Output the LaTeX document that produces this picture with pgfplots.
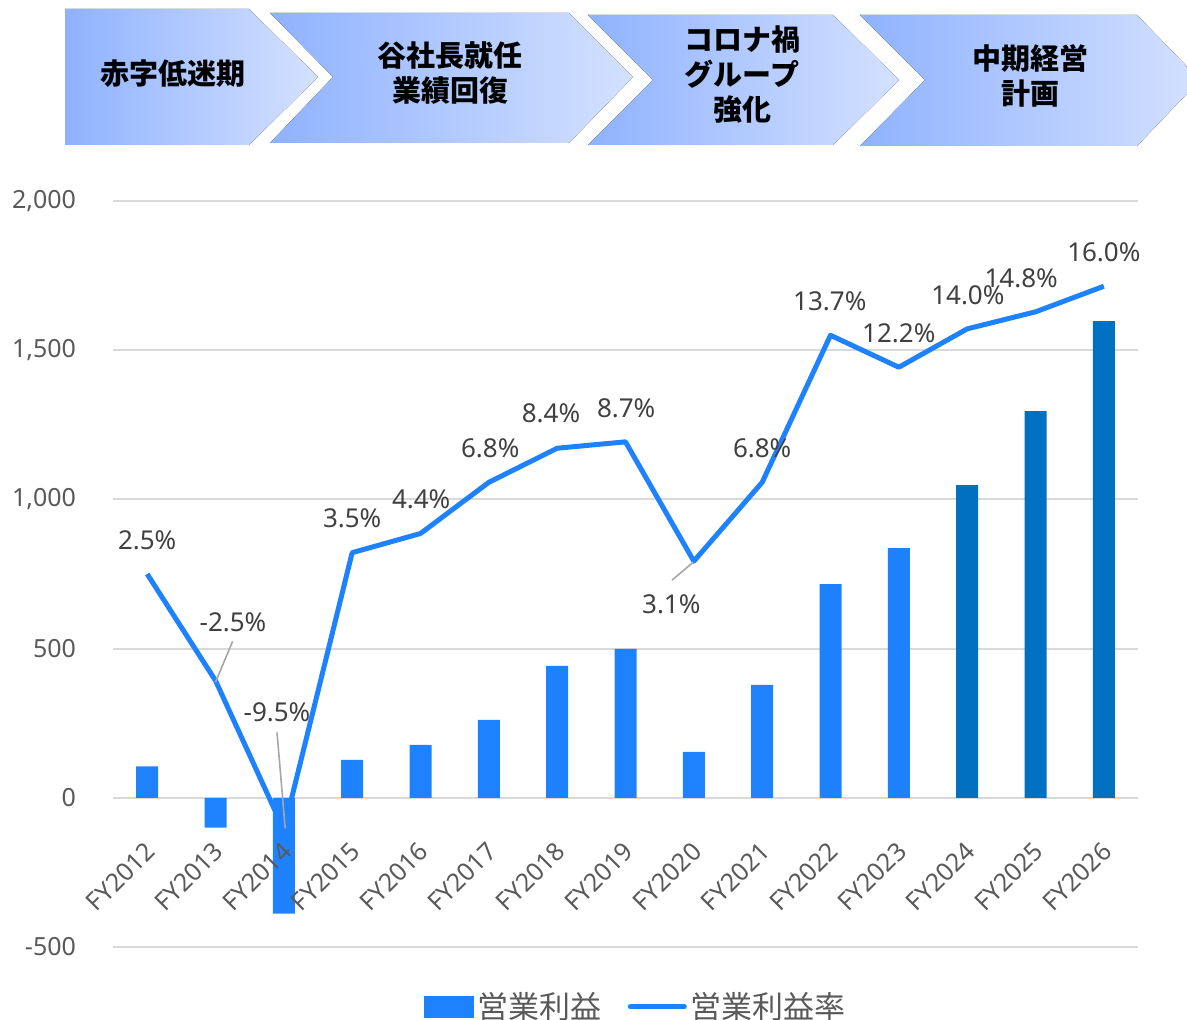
\documentclass[border=0pt]{standalone}
\usepackage{fontspec}
\setmainfont{Noto Sans}
\newfontfamily\jp{Noto Sans CJK JP}
\usepackage{pgfplots}
\pgfplotsset{compat=1.18}
\definecolor{barblue}{HTML}{1E82FF}
\definecolor{bardark}{HTML}{0070C0}
\definecolor{gridc}{HTML}{D9D9D9}
\definecolor{tickc}{HTML}{595959}
\definecolor{labc}{HTML}{404040}
\definecolor{chl}{HTML}{8FB2FF}
\definecolor{chr}{HTML}{D4E1FF}
\definecolor{leader}{HTML}{A6A6A6}
\begin{document}
\begin{tikzpicture}[x=0.5pt,y=0.5pt]
\useasboundingbox (0,0) rectangle (1187,1020);
% chevrons
\fill[left color=chl, right color=chr] (65,1011) -- (249,1011) -- (318,943) -- (249,875) -- (65,875) -- cycle;
\fill[left color=chl, right color=chr] (270,1007) -- (569,1007) -- (633,943) -- (569,877) -- (270,877) -- (333,943) -- cycle;
\fill[left color=chl, right color=chr] (588,1005) -- (833,1005) -- (899,940) -- (833,875) -- (588,875) -- (653,940) -- cycle;
\fill[left color=chl, right color=chr] (860,1005) -- (1137,1005) -- (1200,940) -- (1137,874) -- (860,874) -- (925,940) -- cycle;
\begin{scope}[every node/.style={font=\jp\bfseries\fontsize{14.5}{17.5}\selectfont, align=center, text=black}]
\node at (173,946) {赤字低迷期};
\node at (450,947) {谷社長就任\\業績回復};
\node at (742,945) {コロナ禍\\グループ\\強化};
\node at (1030,944) {中期経営\\計画};
\end{scope}

\begin{axis}[
  at={(56.5pt,36.5pt)}, anchor=south west, scale only axis,
  width=512.5pt, height=373pt,
  xmin=-0.5, xmax=14.5, ymin=-500, ymax=2000,
  ytick={-500,0,500,1000,1500,2000},
  xtick=\empty,
  axis line style={draw=none}, major tick length=0pt,
  ymajorgrids, grid style={gridc, line width=1pt},
  tick label style={font=\fontsize{12.5}{14}\selectfont, text=tickc},
  yticklabel style={xshift=-15pt},
  /pgf/number format/1000 sep={,},
  /pgf/number format/assume math mode=true,
  ybar, bar width=11pt, bar shift=0pt,
  legend columns=2,
  legend style={at={(0.511,-0.0804)}, anchor=center, draw=none, fill=none,
    font=\jp\fontsize{15.5}{17}\selectfont, text=tickc,
    /tikz/every even column/.append style={column sep=11pt}},
]
\addplot[fill=barblue, draw=none,
  legend image code/.code={\fill[barblue] (0pt,-5.5pt) rectangle (25pt,5.5pt);}]
  coordinates {(0,105) (1,-100) (2,-388) (3,127) (4,177) (5,261) (6,442) (7,499) (8,154) (9,378) (10,716) (11,837)};
\addlegendentry{営業利益}
\addplot[fill=bardark, draw=none, forget plot]
  coordinates {(12,1048) (13,1296) (14,1597)};
\addlegendimage{legend image code/.code={\draw[barblue, line width=2.5pt, line cap=round] (0pt,0pt) -- (27pt,0pt);}}
\addlegendentry{営業利益率}
\end{axis}

\begin{axis}[
  at={(56.5pt,36.5pt)}, anchor=south west, scale only axis,
  width=512.5pt, height=373pt,
  xmin=-0.5, xmax=14.5, ymin=-15, ymax=20,
  axis line style={draw=none}, major tick length=0pt,
  ytick=\empty,
  xtick={0,...,14},
  xticklabels={FY2012,FY2013,FY2014,FY2015,FY2016,FY2017,FY2018,FY2019,FY2020,FY2021,FY2022,FY2023,FY2024,FY2025,FY2026},
  tick label style={font=\fontsize{12.5}{14}\selectfont, text=tickc},
  xticklabel style={yshift=52.5pt, xshift=4pt, rotate=45, anchor=east},
  clip=false,
]
\addplot[barblue, line width=2.5pt, line join=round] coordinates {
  (0,2.5) (1,-2.5) (2,-9.5) (3,3.5) (4,4.4) (5,6.8) (6,8.4) (7,8.7) (8,3.1) (9,6.8) (10,13.7) (11,12.2) (12,14.0) (13,14.8) (14,16.0)};
\draw[leader, line width=0.8pt] (axis cs:1.0,-2.58) -- (axis cs:1.25,-0.66);
\draw[leader, line width=0.8pt] (axis cs:1.90,-4.93) -- (axis cs:2.02,-9.43);
\draw[leader, line width=0.8pt] (axis cs:7.99,3.05) -- (axis cs:7.68,2.21);
\begin{scope}[every node/.style={font=\fontsize{13}{15}\selectfont, text=labc}]
\node at (axis cs:0,4.08) {2.5\%};
\node at (axis cs:1.256,0.23) {-2.5\%};
\node at (axis cs:1.90,-3.99) {-9.5\%};
\node at (axis cs:3.0,5.11) {3.5\%};
\node at (axis cs:4.01,6.01) {4.4\%};
\node at (axis cs:5.02,8.40) {6.8\%};
\node at (axis cs:5.91,10.04) {8.4\%};
\node at (axis cs:7.01,10.28) {8.7\%};
\node at (axis cs:7.67,1.08) {3.1\%};
\node at (axis cs:9.0,8.40) {6.8\%};
\node at (axis cs:9.99,15.30) {13.7\%};
\node at (axis cs:11.0,13.80) {12.2\%};
\node at (axis cs:12.01,15.58) {14.0\%};
\node at (axis cs:12.79,16.38) {14.8\%};
\node at (axis cs:14.0,17.60) {16.0\%};
\end{scope}
\end{axis}
\end{tikzpicture}
\end{document}
